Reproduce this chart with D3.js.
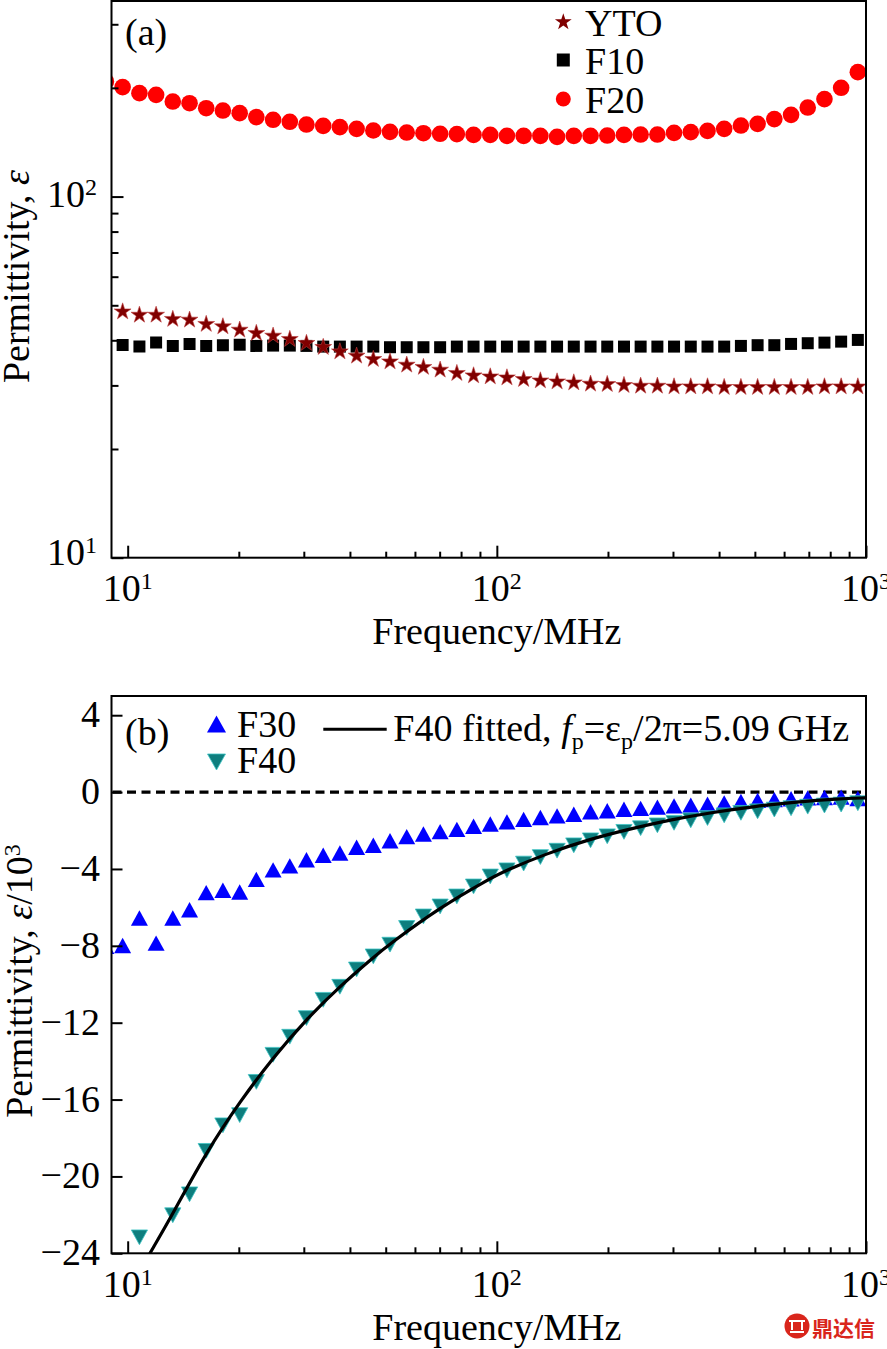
<!DOCTYPE html>
<html><head><meta charset="utf-8">
<script src="https://cdn.jsdelivr.net/npm/d3@7"></script>
<style>
html,body{margin:0;padding:0;background:#fff;}
svg{display:block;}
text{font-family:"Liberation Serif","Times New Roman",serif;fill:#000;}
</style></head><body>
<svg id="chart" width="887" height="1349"></svg>
<script>
// ---------- data ----------
const freq = [8.73, 9.69, 10.76, 11.94, 13.25, 14.71, 16.32, 18.11, 20.11, 22.31,
  24.77, 27.49, 30.50, 33.86, 37.57, 41.70, 46.28, 51.36, 57.00, 63.26,
  70.21, 77.93, 86.48, 95.98, 106.5, 118.2, 131.2, 145.6, 161.6, 179.4,
  199.1, 221.0, 245.2, 272.2, 302.0, 335.2, 372.1, 412.9, 458.3, 508.6,
  564.5, 626.6, 695.3, 771.7, 856.4, 950.4];

const ytoEps = [null, 48.0, 47.0, 47.0, 45.76, 45.55, 44.32, 43.65, 42.73, 41.84,
  41.13, 40.27, 39.26, 38.27, 37.21, 36.2, 35.45, 34.91, 34.18, 33.69,
  33.11, 32.42, 31.93, 31.72, 31.52, 31.2, 30.92, 30.72, 30.53, 30.28,
  30.22, 30.03, 29.89, 29.89, 29.76, 29.76, 29.76, 29.65, 29.65, 29.65,
  29.65, 29.65, 29.65, 29.76, 29.76, 29.76];

const f10Eps = [null, 38.84, 38.42, 39.41, 38.59, 39.08, 38.59, 38.77, 38.9, 38.59,
  38.67, 38.67, 38.59, 38.42, 38.42, 38.42, 38.42, 38.27, 38.27, 38.27,
  38.27, 38.42, 38.42, 38.42, 38.42, 38.42, 38.42, 38.42, 38.42, 38.42,
  38.42, 38.42, 38.42, 38.42, 38.42, 38.42, 38.42, 38.42, 38.59, 38.77,
  38.77, 39.08, 39.26, 39.41, 39.66, 40.09];

const f20Eps = [208.3, 201, 193.4, 191.3, 183.3, 181.4, 175.7, 173.1, 170.2, 166,
  163.2, 161.1, 158.3, 157, 155.7, 154, 152.4, 151.1, 150.4, 149.8,
  149.2, 148.9, 148.2, 148.2, 147.3, 147.3, 147.3, 146.3, 147.3, 147.3,
  147.6, 148.2, 148.5, 148.5, 150.1, 150.8, 152, 154, 157.3, 159,
  163.9, 168.4, 176.4, 186.2, 200.1, 221.1];

// panel (b), permittivity / 10^3
const f30Eps = [-8.03, -7.98, -6.55, -7.86, -6.55, -6.12, -5.23, -5.11, -5.20, -4.54,
  -4.05, -3.84, -3.52, -3.29, -3.17, -2.87, -2.77, -2.53, -2.32, -2.18,
  -2.06, -1.94, -1.78, -1.66, -1.55, -1.42, -1.32, -1.24, -1.15, -1.02,
  -0.97, -0.89, -0.85, -0.78, -0.72, -0.68, -0.63, -0.56, -0.49, -0.43,
  -0.39, -0.35, -0.30, -0.28, -0.26, -0.33];

const f40Eps = [null, null, -23.17, null, -22.02, -20.93, -18.67, -17.34, -16.81, -15.08,
  -13.67, -12.73, -11.76, -10.81, -10.13, -9.23, -8.55, -7.94, -7.07, -6.47,
  -5.95, -5.43, -4.91, -4.39, -4.07, -3.72, -3.38, -3.05, -2.77, -2.51,
  -2.30, -2.07, -1.88, -1.73, -1.60, -1.47, -1.35, -1.21, -1.08, -1.00,
  -0.91, -0.84, -0.76, -0.70, -0.65, -0.58];

const fitFreq = [11.21, 11.49, 13.29, 16.37, 20.15, 24.80, 30.54, 37.58, 46.27, 51.33,
  70.13, 95.79, 105.2, 136.4, 176.9, 229.4, 297.5, 385.7, 500.2, 648.6, 840.9, 998.6];
const fitEps = [-24.35, -24.0, -21.9, -18.7, -16.1, -13.8, -11.8, -10.1, -8.6, -7.9,
  -6.0, -4.5, -4.1, -3.2, -2.47, -1.92, -1.43, -1.05, -0.74, -0.51, -0.35, -0.30];

const xMajor = [10, 100, 1000];
const xMinor = [20, 30, 40, 50, 60, 70, 80, 90, 200, 300, 400, 500, 600, 700, 800, 900];
const xMajorExp = ["1", "2", "3"];
const yAMajor = [10, 100];
const yAMajorExp = ["1", "2"];
const yAMinor = [20, 30, 40, 50, 60, 70, 80, 90, 200, 300];
const yBTicks = [4, 0, -4, -8, -12, -16, -20, -24];

const legendA = ["YTO", "F10", "F20"];
const legendB = ["F30", "F40"];

// ---------- drawing ----------
const svg = d3.select("#chart");
const FS = 38, SUP = 24;
const colRed = "#ff0000", colYTO = "#800000", colBlue = "#0000ff", colTeal = "#0e7e7e", colTealEdge = "#3cc4c4";

const L = 111.5, R = 866;
const x = d3.scaleLog().domain([9.04, 1000]).range([L, R]);
const aTop = 1, aBot = 557.7, bTop = 696, bBot = 1253.3;
const yA = d3.scaleLog().domain([10, 348]).range([aBot, aTop]);
const yB = d3.scaleLinear().domain([-24, 5]).range([bBot, bTop]);

const defs = svg.append("defs");
defs.append("clipPath").attr("id", "clipA").append("rect")
  .attr("x", L).attr("y", aTop).attr("width", R - L).attr("height", aBot - aTop);
defs.append("clipPath").attr("id", "clipB").append("rect")
  .attr("x", L).attr("y", bTop).attr("width", R - L).attr("height", bBot - bTop);

const starPath = d3.symbol(d3.symbolStar, 88)();
const squarePath = d3.symbol(d3.symbolSquare, 144)();
const triUp = "M0,-7.7L8.5,7.7L-8.5,7.7Z";
const triDown = "M0,7.4L8.1,-7.4L-8.1,-7.4Z";

function supText(g, px, py, base, exp, anchor) {
  const t = g.append("text").attr("x", px).attr("y", py)
    .attr("text-anchor", anchor).style("font-size", FS + "px");
  t.append("tspan").text(base);
  t.append("tspan").attr("dy", -12).style("font-size", SUP + "px").text(exp);
  return t;
}

function styleAxis(g) {
  g.select(".domain").remove();
  g.selectAll(".tick line").attr("stroke", "#000").attr("stroke-width", 2);
  g.selectAll(".tick text").remove();
}

function xAxes(bottom) {
  const g1 = svg.append("g").attr("transform", `translate(0,${bottom})`)
    .call(d3.axisBottom(x).tickValues(xMajor).tickSize(-12).tickFormat(""));
  styleAxis(g1);
  const g2 = svg.append("g").attr("transform", `translate(0,${bottom})`)
    .call(d3.axisBottom(x).tickValues(xMinor).tickSize(-6).tickFormat(""));
  styleAxis(g2);
  const lab = svg.append("g");
  xMajor.forEach((v, i) => supText(lab, x(v), bottom + 43.4, "10", xMajorExp[i], "middle"));
  svg.append("text").attr("x", 496.8).attr("y", bottom + 86.5)
    .attr("text-anchor", "middle").style("font-size", FS + "px").text("Frequency/MHz");
}

// ===== Panel (a) =====
const gA = svg.append("g").attr("clip-path", "url(#clipA)");
gA.append("g").selectAll("circle").data(freq.map((f, i) => [f, f20Eps[i]]).filter(d => d[1] != null))
  .join("circle").attr("cx", d => x(d[0])).attr("cy", d => yA(d[1])).attr("r", 8.3).attr("fill", colRed);
gA.append("g").selectAll("path").data(freq.map((f, i) => [f, f10Eps[i]]).filter(d => d[1] != null))
  .join("path").attr("d", squarePath).attr("fill", "#000")
  .attr("transform", d => `translate(${x(d[0])},${yA(d[1])})`);
gA.append("g").selectAll("path").data(freq.map((f, i) => [f, ytoEps[i]]).filter(d => d[1] != null))
  .join("path").attr("d", starPath).attr("fill", colYTO).attr("stroke", "#c04040").attr("stroke-width", 0.6)
  .attr("transform", d => `translate(${x(d[0])},${yA(d[1])})`);

xAxes(aBot);
const yAg1 = svg.append("g").attr("transform", `translate(${L},0)`)
  .call(d3.axisLeft(yA).tickValues(yAMajor).tickSize(-12).tickFormat(""));
styleAxis(yAg1);
const yAg2 = svg.append("g").attr("transform", `translate(${L},0)`)
  .call(d3.axisLeft(yA).tickValues(yAMinor).tickSize(-7).tickFormat(""));
styleAxis(yAg2);
const yAlab = svg.append("g");
yAMajor.forEach((v, i) => supText(yAlab, 97, yA(v) + (v === 10 ? 7.5 : 10), "10", yAMajorExp[i], "end"));

svg.append("rect").attr("x", L).attr("y", aTop).attr("width", R - L).attr("height", aBot - aTop)
  .attr("fill", "none").attr("stroke", "#000").attr("stroke-width", 2);

const ylA = svg.append("text").attr("transform", "translate(29,276.5) rotate(-90)")
  .attr("text-anchor", "middle").style("font-size", FS + "px");
ylA.append("tspan").text("Permittivity, ");
ylA.append("tspan").style("font-style", "italic").text("ε");

svg.append("text").attr("x", 125).attr("y", 44.5).style("font-size", FS + "px").text("(a)");

// legend (a)
const legA = svg.append("g");
const legAy = [22, 60, 99];
legA.append("path").attr("d", starPath).attr("fill", colYTO).attr("transform", `translate(563.3,${legAy[0]})`);
legA.append("path").attr("d", d3.symbol(d3.symbolSquare, 169)()).attr("fill", "#000").attr("transform", `translate(563.3,${legAy[1]})`);
legA.append("circle").attr("cx", 563.3).attr("cy", legAy[2]).attr("r", 7.5).attr("fill", colRed);
legendA.forEach((s, i) => legA.append("text").attr("x", 585).attr("y", legAy[i] + 13.5)
  .style("font-size", FS + "px").text(s));

// ===== Panel (b) =====
const gB = svg.append("g").attr("clip-path", "url(#clipB)");
gB.append("line").attr("x1", L + 1).attr("x2", R).attr("y1", yB(0)).attr("y2", yB(0))
  .attr("stroke", "#000").attr("stroke-width", 3.2).attr("stroke-dasharray", "9,5.5");
gB.append("g").selectAll("path").data(freq.map((f, i) => [f, f30Eps[i]]).filter(d => d[1] != null))
  .join("path").attr("d", triUp).attr("fill", colBlue)
  .attr("transform", d => `translate(${x(d[0])},${yB(d[1])})`);
gB.append("g").selectAll("path").data(freq.map((f, i) => [f, f40Eps[i]]).filter(d => d[1] != null))
  .join("path").attr("d", triDown).attr("fill", colTeal).attr("stroke", colTealEdge).attr("stroke-width", 0.8)
  .attr("transform", d => `translate(${x(d[0])},${yB(d[1])})`);
const fitLine = d3.line().x(d => x(d[0])).y(d => yB(d[1])).curve(d3.curveBasis);
gB.append("path").attr("d", fitLine(fitFreq.map((f, i) => [f, fitEps[i]])))
  .attr("fill", "none").attr("stroke", "#000").attr("stroke-width", 3.2);

xAxes(bBot);
const yBg = svg.append("g").attr("transform", `translate(${L},0)`)
  .call(d3.axisLeft(yB).tickValues(yBTicks).tickSize(-11).tickFormat(""));
styleAxis(yBg);
const yBlab = svg.append("g");
yBTicks.forEach(v => yBlab.append("text").attr("x", 100).attr("y", yB(v) + 12)
  .attr("text-anchor", "end").style("font-size", FS + "px")
  .text(v < 0 ? "\u2212" + Math.abs(v) : String(v)));

svg.append("rect").attr("x", L).attr("y", bTop).attr("width", R - L).attr("height", bBot - bTop)
  .attr("fill", "none").attr("stroke", "#000").attr("stroke-width", 2);

const ylB = svg.append("text").attr("transform", "translate(31.5,981) rotate(-90)")
  .attr("text-anchor", "middle").style("font-size", FS + "px");
ylB.append("tspan").text("Permittivity, ");
ylB.append("tspan").style("font-style", "italic").text("ε");
ylB.append("tspan").text("/10");
ylB.append("tspan").attr("dy", -12).style("font-size", SUP + "px").text("3");

svg.append("text").attr("x", 125).attr("y", 744.5).style("font-size", FS + "px").text("(b)");

// legend (b)
const legB = svg.append("g");
legB.append("path").attr("d", "M0,-8.5L9.5,8.5L-9.5,8.5Z").attr("fill", colBlue).attr("transform", "translate(216.5,724)");
legB.append("path").attr("d", "M0,8L9,-8L-9,-8Z").attr("fill", colTeal).attr("stroke", colTealEdge).attr("stroke-width", 0.8).attr("transform", "translate(216.5,762)");
legB.append("text").attr("x", 237).attr("y", 737).style("font-size", FS + "px").text(legendB[0]);
legB.append("text").attr("x", 237).attr("y", 773.3).style("font-size", FS + "px").text(legendB[1]);
legB.append("line").attr("x1", 323.3).attr("x2", 386.7).attr("y1", 729.3).attr("y2", 729.3)
  .attr("stroke", "#000").attr("stroke-width", 3);
const fitT = legB.append("text").attr("x", 393.3).attr("y", 741).style("font-size", FS + "px");
fitT.append("tspan").text("F40 fitted, ");
fitT.append("tspan").style("font-style", "italic").text("f");
fitT.append("tspan").attr("dy", 8).style("font-size", SUP + "px").text("p");
fitT.append("tspan").attr("dy", -8).text("=ε");
fitT.append("tspan").attr("dy", 8).style("font-size", SUP + "px").text("p");
fitT.append("tspan").attr("dy", -8).text("/2π=5.09\u2009GHz");

// watermark
const wm = svg.append("g");
wm.append("circle").attr("cx", 797).attr("cy", 1326).attr("r", 12.5).attr("fill", "#d9261c");
wm.append("path").attr("d", "M789,1321h16M792,1321v9M802,1321v9M790,1332h14")
  .attr("stroke", "#fff").attr("stroke-width", 2).attr("fill", "none");
wm.append("text").attr("x", 812).attr("y", 1336).style("font-family", "'Noto Sans CJK SC',sans-serif")
  .style("font-size", "21px").style("font-weight", "bold").style("fill", "#d9261c").text("鼎达信");
</script>
</body></html>
